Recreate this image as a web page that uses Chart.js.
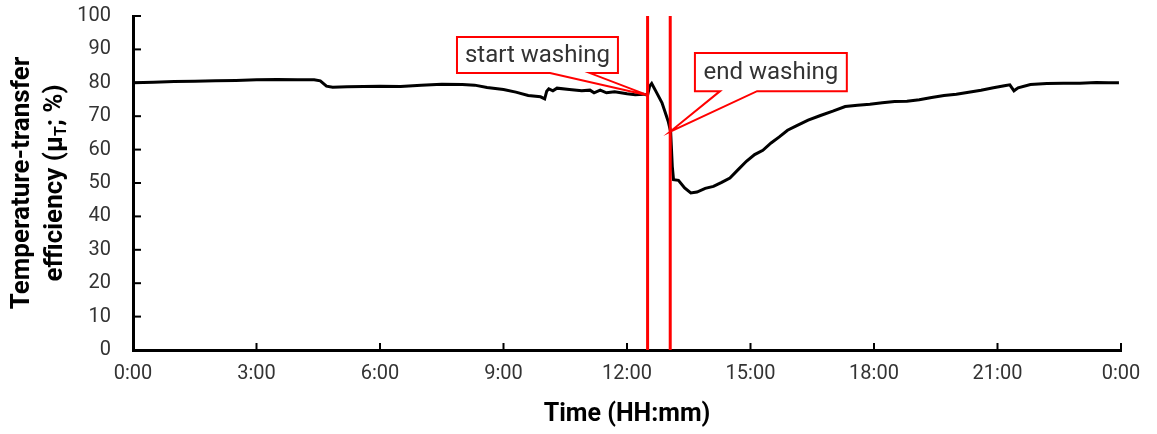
<!DOCTYPE html>
<html lang="en">
<head>
  <meta charset="UTF-8" />
  <title>Temperature-transfer efficiency</title>
  <script src="https://cdn.jsdelivr.net/npm/chart.js"></script>
  <style>
    html, body { margin: 0; padding: 0; background: #fff; }
    .chart-box { width: 1157px; height: 434px; }
  </style>
</head>
<body>
  <div class="chart-box">
    <canvas id="effChart"></canvas>
  </div>

  <script>
    // time in hours since 0:00, efficiency in %
    const timeHours = [
      0.0, 0.5, 1.0, 1.5, 2.0, 2.5, 3.0, 3.5, 4.0, 4.4, 4.55, 4.7, 4.85, 5.2, 5.6, 6.0, 6.5, 7.0, 7.5, 8.0,
      8.3, 8.6, 9.0, 9.3, 9.6, 9.9, 10.0, 10.05, 10.1, 10.2, 10.3, 10.6, 10.9, 11.1, 11.2, 11.35, 11.5, 11.7, 12.0, 12.2,
      12.4, 12.5, 12.55, 12.6, 12.7, 12.85, 13.0, 13.06, 13.1, 13.13, 13.25, 13.4, 13.55, 13.7, 13.9, 14.1, 14.3, 14.5, 14.7, 14.9,
      15.1, 15.3, 15.5, 15.7, 15.9, 16.1, 16.4, 16.7, 17.0, 17.3, 17.6, 17.9, 18.2, 18.5, 18.8, 19.1, 19.4, 19.7, 20.0, 20.3,
      20.6, 20.9, 21.2, 21.3, 21.4, 21.5, 21.8, 22.2, 22.6, 23.0, 23.4, 23.7, 23.95
    ];
    const efficiency = [
      80.0, 80.2, 80.4, 80.5, 80.6, 80.7, 80.9, 81.0, 80.9, 80.9, 80.6, 79.0, 78.7, 78.8, 78.9, 79.0, 78.9, 79.3, 79.6, 79.5,
      79.3, 78.6, 78.0, 77.2, 76.2, 75.8, 75.2, 77.5, 78.2, 77.6, 78.4, 78.0, 77.6, 77.8, 77.0, 77.8, 77.0, 77.3, 76.7, 76.4,
      76.6, 76.3, 79.0, 79.8, 77.5, 74.0, 68.5, 65.4, 55.0, 51.0, 50.8, 48.5, 47.0, 47.3, 48.4, 49.0, 50.2, 51.5, 54.0, 56.5,
      58.5, 59.8, 62.0, 63.8, 65.8, 67.0, 68.8, 70.2, 71.5, 72.9, 73.3, 73.6, 74.0, 74.4, 74.5, 74.9, 75.6, 76.2, 76.6, 77.2,
      77.8, 78.5, 79.2, 79.4, 77.6, 78.5, 79.5, 79.8, 79.9, 79.9, 80.1, 80.0, 80.0
    ];

    const washStart = 12.5;
    const washEnd = 13.05;
    const xTicks = [0, 3, 6, 9, 12, 15, 18, 21, 24];
    const yTicks = [0, 10, 20, 30, 40, 50, 60, 70, 80, 90, 100];

    // callouts: box corners and pointer base in data units
    const callouts = [
      { text: 'start washing', x0: 7.87, x1: 11.78, y0: 82.9, y1: 93.7, b0: 10.13, b1: 11.1, tipX: washStart, tipY: 76.3 },
      { text: 'end washing', x0: 13.65, x1: 17.34, y0: 77.5, y1: 88.9, b0: 14.26, b1: 15.16, tipX: washEnd, tipY: 65.4 }
    ];

    const linePoints = timeHours.map((t, i) => ({ x: t, y: efficiency[i] }));

    const FONT = 'Roboto, "DejaVu Sans", sans-serif';

    const innerTicks = {
      id: 'innerTicks',
      afterDraw(chart) {
        const { ctx, chartArea, scales } = chart;
        ctx.save();
        ctx.strokeStyle = '#000';
        ctx.lineWidth = 2;
        xTicks.forEach(v => {
          if (v === 0) return;
          const px = scales.x.getPixelForValue(v);
          ctx.beginPath();
          ctx.moveTo(px, chartArea.bottom);
          ctx.lineTo(px, chartArea.bottom - 7);
          ctx.stroke();
        });
        yTicks.forEach(v => {
          if (v === 0) return;
          const py = scales.y.getPixelForValue(v);
          ctx.beginPath();
          ctx.moveTo(chartArea.left, py);
          ctx.lineTo(chartArea.left + 8, py);
          ctx.stroke();
        });
        ctx.restore();
      }
    };

    const calloutPlugin = {
      id: 'callouts',
      afterDatasetsDraw(chart) {
        const { ctx, scales } = chart;
        const X = v => scales.x.getPixelForValue(v);
        const Y = v => scales.y.getPixelForValue(v);
        ctx.save();
        callouts.forEach(c => {
          const l = X(c.x0), r = X(c.x1), t = Y(c.y1), b = Y(c.y0);
          ctx.fillStyle = '#fff';
          ctx.strokeStyle = '#ff0000';
          ctx.lineWidth = 2;
          ctx.beginPath();
          ctx.moveTo(l, t);
          ctx.lineTo(r, t);
          ctx.lineTo(r, b);
          ctx.lineTo(X(c.b1), b);
          ctx.lineTo(X(c.tipX), Y(c.tipY));
          ctx.lineTo(X(c.b0), b);
          ctx.lineTo(l, b);
          ctx.closePath();
          ctx.fill();
          ctx.stroke();
          ctx.fillStyle = '#333';
          ctx.font = '24px ' + FONT;
          ctx.textAlign = 'center';
          ctx.textBaseline = 'middle';
          ctx.fillText(c.text, (l + r) / 2, (t + b) / 2 + 1);
        });
        ctx.restore();
      }
    };

    const yTitle = {
      id: 'yTitle',
      afterDraw(chart) {
        const { ctx, chartArea } = chart;
        const cy = (chartArea.top + chartArea.bottom) / 2;
        ctx.save();
        ctx.fillStyle = '#000';
        ctx.translate(0, cy);
        ctx.rotate(-Math.PI / 2);
        ctx.textBaseline = 'middle';
        ctx.font = 'bold 26px ' + FONT;
        ctx.textAlign = 'center';
        ctx.fillText('Temperature-transfer', 0, 22);

        // second line with subscript T
        const big = 'bold 26px ' + FONT;
        const small = 'bold 16px ' + FONT;
        const parts = [
          { s: 'efficiency (\u03bc', f: big, dy: 0 },
          { s: 'T', f: small, dy: 7 },
          { s: '; %)', f: big, dy: 0 }
        ];
        let total = 0;
        parts.forEach(p => { ctx.font = p.f; p.w = ctx.measureText(p.s).width; total += p.w; });
        let x = -total / 2;
        ctx.textAlign = 'left';
        parts.forEach(p => {
          ctx.font = p.f;
          ctx.fillText(p.s, x, 55 + p.dy);
          x += p.w;
        });
        ctx.restore();
      }
    };

    const ctx = document.getElementById('effChart').getContext('2d');
    new Chart(ctx, {
      type: 'line',
      data: {
        datasets: [
          {
            data: [{ x: washStart, y: 0 }, { x: washStart, y: 100 }],
            borderColor: '#ff0000',
            borderWidth: 3,
            pointRadius: 0,
            order: 0
          },
          {
            data: [{ x: washEnd, y: 0 }, { x: washEnd, y: 100 }],
            borderColor: '#ff0000',
            borderWidth: 3,
            pointRadius: 0,
            order: 0
          },
          {
            data: linePoints,
            borderColor: '#000',
            borderWidth: 3,
            pointRadius: 0,
            tension: 0,
            order: 1
          }
        ]
      },
      options: {
        responsive: true,
        maintainAspectRatio: false,
        animation: false,
        layout: { padding: { left: 0, top: 16, right: 36, bottom: 0 } },
        plugins: {
          legend: { display: false },
          tooltip: { enabled: false }
        },
        scales: {
          x: {
            type: 'linear',
            min: 0,
            max: 24,
            afterFit(scale) { scale.height = 84; scale.paddingRight = 0; scale.paddingLeft = 0; },
            afterBuildTicks(scale) { scale.ticks = xTicks.map(v => ({ value: v })); },
            ticks: {
              color: '#333',
              font: { family: FONT, size: 20 },
              padding: 12,
              maxRotation: 0,
              callback: v => (v % 24) + ':00'
            },
            grid: { display: true, drawOnChartArea: false, drawTicks: false },
            border: { color: '#000', width: 3 },
            title: {
              display: true,
              text: 'Time (HH:mm)',
              color: '#000',
              font: { family: FONT, size: 25, weight: 'bold' },
              padding: { top: 0 }
            }
          },
          y: {
            min: 0,
            max: 100,
            afterFit(scale) { scale.width = 133; scale.paddingTop = 0; scale.paddingBottom = 0; },
            afterBuildTicks(scale) { scale.ticks = yTicks.map(v => ({ value: v })); },
            ticks: {
              color: '#333',
              font: { family: FONT, size: 20 },
              padding: 22
            },
            grid: { display: true, drawOnChartArea: false, drawTicks: false },
            border: { color: '#000', width: 3 }
          }
        }
      },
      plugins: [innerTicks, calloutPlugin, yTitle]
    });
  </script>
</body>
</html>
